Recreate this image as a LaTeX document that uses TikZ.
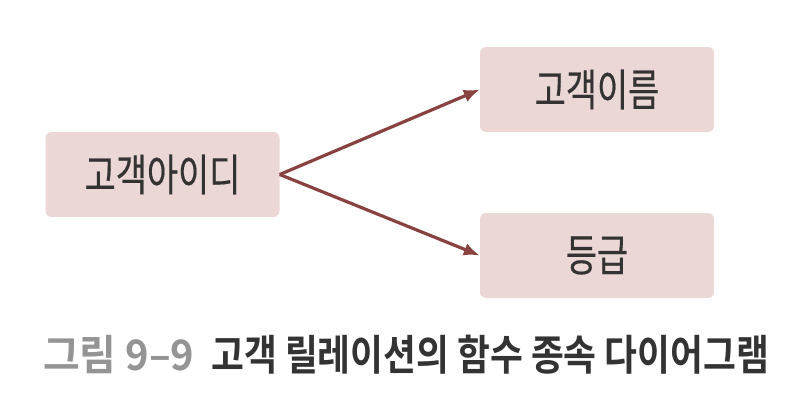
\documentclass[tikz,border=0pt]{standalone}
\usepackage{fontspec}
\usetikzlibrary{arrows.meta}
\newfontfamily\krfont[FakeStretch=0.77,FakeBold=0.4]{Noto Sans CJK KR}
\newfontfamily\krbold[FakeStretch=0.85]{Noto Sans CJK KR Bold}
\newfontfamily\krboldwide[FakeStretch=0.95]{Noto Sans CJK KR Bold}
\definecolor{boxfill}{HTML}{EBD7D6}
\definecolor{arrowc}{HTML}{88423F}
\definecolor{txt}{HTML}{333333}
\definecolor{capgray}{HTML}{949494}
\tikzset{
  attr/.style={draw=none, fill=boxfill, rounded corners=6pt, minimum width=234pt, minimum height=85pt, inner sep=0pt, text=txt, font=\krfont\fontsize{44pt}{48pt}\selectfont},
  dep/.style={draw=arrowc, line width=3.2pt, -{Latex[length=16pt,width=13pt]}}
}
\begin{document}
\begin{tikzpicture}[x=1pt,y=1pt]
\useasboundingbox (0,0) rectangle (806,-412);
\node[attr] (id) at (162.5,-174.5) {고객아이디};
\node[attr] (name) at (597,-89.5) {고객이름};
\node[attr] (grade) at (597,-255.5) {등급};
\draw[dep] (id.east) -- (name.west);
\draw[dep] (id.east) -- (grade.west);
\node[anchor=west, inner sep=0pt, font=\krbold\fontsize{42pt}{46pt}\selectfont, text=txt] (cap) at (43,-355) {{\krboldwide\color{capgray}그림 9–9}\hspace{0.4em}고객 릴레이션의 함수 종속 다이어그램};
\end{tikzpicture}
\end{document}
